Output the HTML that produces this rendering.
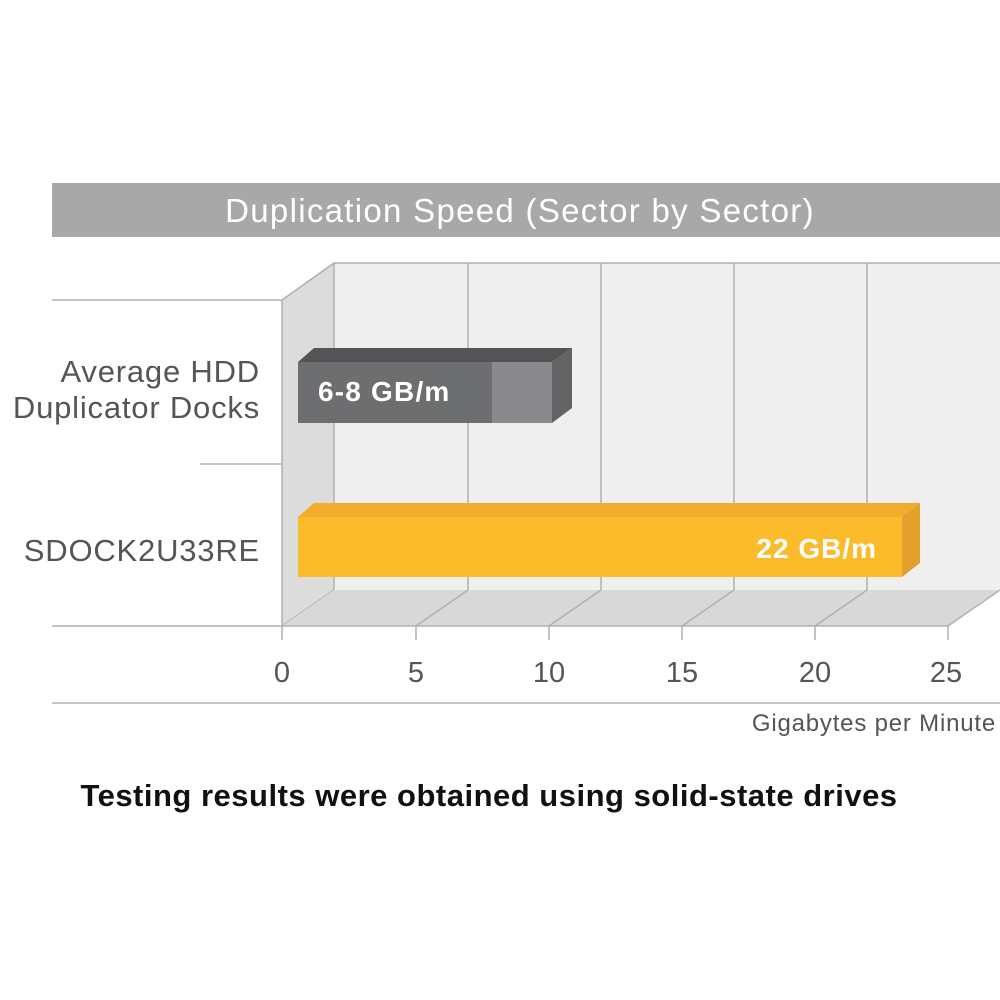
<!DOCTYPE html>
<html><head><style>body{margin:0;background:#fff}svg{display:block}</style></head><body>
<svg width="1000" height="1000" viewBox="0 0 1000 1000" font-family="Liberation Sans, sans-serif">
<rect x="52" y="183" width="948" height="54" fill="#a8a8a8"/>
<text x="520" y="222" text-anchor="middle" font-size="33" letter-spacing="1.3" fill="#fff">Duplication Speed (Sector by Sector)</text>
<polygon points="334,263 1000,263 1000,590 334,590" fill="#efefef"/>
<polygon points="282,300 334,263 334,590 282,626" fill="#dcdcdc" stroke="#b0b0b0" stroke-width="1.5"/>
<polygon points="334,590 1000,590 948,626 282,626" fill="#d8d8d8"/>
<g stroke="#b0b0b0" stroke-width="1.5" fill="none">
<line x1="334" y1="263" x2="1000" y2="263"/>
<line x1="468" y1="263" x2="468" y2="590"/><line x1="601" y1="263" x2="601" y2="590"/>
<line x1="734" y1="263" x2="734" y2="590"/><line x1="867" y1="263" x2="867" y2="590"/>
<line x1="468" y1="590" x2="416" y2="626"/><line x1="601" y1="590" x2="549" y2="626"/>
<line x1="734" y1="590" x2="682" y2="626"/><line x1="867" y1="590" x2="815" y2="626"/>
<line x1="1000" y1="590" x2="948" y2="626"/>
<line x1="52" y1="626" x2="948" y2="626"/>
<line x1="52" y1="300" x2="282" y2="300"/><line x1="200" y1="464" x2="282" y2="464"/>
<line x1="282" y1="626" x2="282" y2="640"/><line x1="416" y1="626" x2="416" y2="640"/>
<line x1="549" y1="626" x2="549" y2="640"/><line x1="682" y1="626" x2="682" y2="640"/>
<line x1="815" y1="626" x2="815" y2="640"/><line x1="948" y1="626" x2="948" y2="640"/>
<line x1="52" y1="703" x2="1000" y2="703"/>
</g>
<polygon points="298,362 314,348 572,348 552,362" fill="#545456"/>
<polygon points="552,362 572,348 572,408 552,423" fill="#636365"/>
<rect x="298" y="362" width="194" height="61" fill="#6d6e70"/>
<rect x="492" y="362" width="60" height="61" fill="#8a8a8c"/>
<text x="318" y="401" font-size="28" letter-spacing="1.2" font-weight="bold" fill="#fff">6-8 GB/m</text>
<polygon points="298,517 314,503 920,503 902,517" fill="#f2ac2c"/>
<polygon points="902,517 920,503 920,563 902,577" fill="#e3a02b"/>
<rect x="298" y="517" width="604" height="60" fill="#fbbb2a"/>
<text x="877" y="558" text-anchor="end" font-size="28" letter-spacing="1" font-weight="bold" fill="#fff">22 GB/m</text>
<g font-size="31" letter-spacing="0.8" fill="#555" text-anchor="end">
<text x="260" y="382">Average HDD</text>
<text x="260" y="418">Duplicator Docks</text>
<text x="260" y="561">SDOCK2U33RE</text>
</g>
<g font-size="29" fill="#555" text-anchor="middle">
<text x="282" y="682">0</text><text x="416" y="682">5</text><text x="549" y="682">10</text>
<text x="682" y="682">15</text><text x="815" y="682">20</text><text x="946" y="682">25</text>
</g>
<text x="996" y="731" text-anchor="end" font-size="24" letter-spacing="0.8" fill="#555">Gigabytes per Minute</text>
<text x="489" y="806" text-anchor="middle" font-size="31" letter-spacing="0.5" font-weight="bold" fill="#111">Testing results were obtained using solid-state drives</text>
</svg>
</body></html>
